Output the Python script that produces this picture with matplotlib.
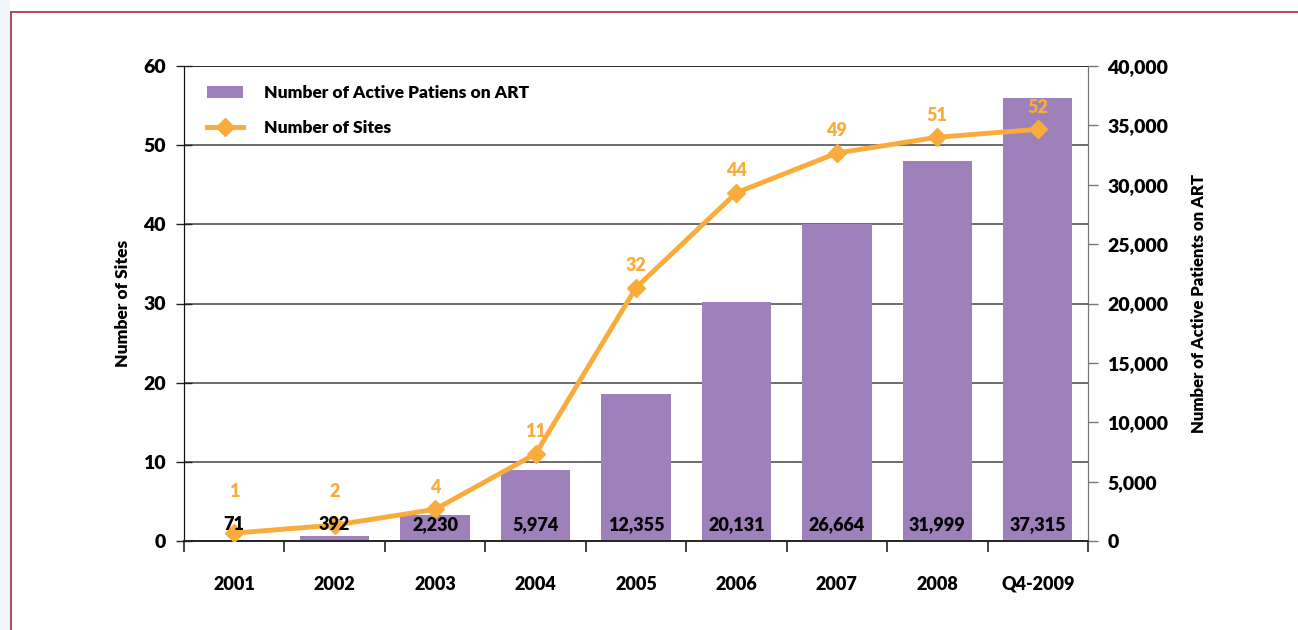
import numpy as np
import matplotlib.pyplot as plt
from matplotlib.patches import Rectangle
from matplotlib.lines import Line2D

plt.rcParams['font.family'] = ['Lato', 'DejaVu Sans']
plt.rcParams['font.weight'] = 'heavy'
WT = 'heavy'

# data
years = ["2001", "2002", "2003", "2004", "2005", "2006", "2007", "2008", "Q4-2009"]
patients = [71, 392, 2230, 5974, 12355, 20131, 26664, 31999, 37315]
sites = [1, 2, 4, 11, 32, 44, 49, 51, 52]

purple = "#9e80ba"
orange = "#f9ab3c"
frame = "#b8354f"

W, H = 1298, 630
fig = plt.figure(figsize=(W / 100, H / 100), dpi=100)

# light strip on the left and the thin frame
fig.patches.append(Rectangle((0, 0), 10 / W, 1, transform=fig.transFigure,
                             facecolor="#f2f5fa", edgecolor="none", zorder=0))
fig.add_artist(Line2D([10.5 / W, 10.5 / W], [0, 1 - 11.5 / H], color=frame, lw=1.3))
fig.add_artist(Line2D([10.5 / W, 1], [1 - 11.5 / H, 1 - 11.5 / H], color=frame, lw=1.3))

ax_bar = fig.add_axes([184 / W, 1 - 541 / H, (1088 - 184) / W, (541 - 66) / H])
ax_line = ax_bar.twinx()

x = np.arange(len(years))

# gridlines for the site scale, behind the bars
site_ticks = np.arange(0, 61, 10)
pmax = 40000
for t in site_ticks[1:]:
    ax_bar.axhline(t * pmax / 60, color="#444444", lw=1.1, zorder=0)

ax_bar.bar(x, patients, width=0.69, color=purple, zorder=2,
           label="Number of Active Patiens on ART")
ax_bar.set_ylim(0, pmax)
ax_bar.set_yticks(np.arange(0, pmax + 1, 5000))
ax_bar.set_yticklabels([f"{v:,}" for v in np.arange(0, pmax + 1, 5000)])
ax_bar.yaxis.tick_right()
ax_bar.yaxis.set_label_position("right")
ax_bar.set_ylabel("Number of Active Patients on ART", fontsize=12, fontweight=WT,
                  labelpad=16)
ax_bar.tick_params(axis="y", direction="out", length=7, width=1, color="#777777",
                   pad=7, labelsize=14)

ax_line.plot(x, sites, color=orange, lw=3.5, marker="D", markersize=9,
             label="Number of Sites", zorder=3)
ax_line.set_ylim(0, 60)
ax_line.set_yticks(site_ticks)
ax_line.yaxis.tick_left()
ax_line.yaxis.set_label_position("left")
ax_line.set_ylabel("Number of Sites", fontsize=12.5, fontweight=WT, labelpad=9)
ax_line.tick_params(axis="y", direction="inout", length=12, width=1, color="#222222",
                    pad=7, labelsize=14)

# category axis: ticks between categories, labels at centers
ax_bar.set_xlim(-0.5, len(years) - 0.5)
ax_bar.set_xticks(np.arange(-0.5, len(years), 1))
ax_bar.set_xticklabels([])
ax_bar.set_xticks(x, minor=True)
ax_bar.set_xticklabels(years, minor=True, fontsize=13, fontweight=WT)
ax_bar.tick_params(axis="x", which="major", direction="out", length=8, width=1.2,
                   color="#222222")
ax_bar.tick_params(axis="x", which="minor", length=0, pad=25)

for a in (ax_bar, ax_line):
    a.spines["top"].set_visible(False)
    a.spines["left"].set_color("#111111")
    a.spines["right"].set_color("#777777")
    a.spines["bottom"].set_color("#222222")
    a.spines["bottom"].set_linewidth(1.2)
ax_line.axhline(60, color="#222222", lw=1.2, zorder=1)

# value labels
for xi, p in zip(x, patients):
    ax_line.text(xi, 1400, f"{p:,}", transform=ax_bar.transData, ha="center",
                 va="center", fontsize=13, fontweight=WT, color="black", zorder=5)
for xi, s in zip(x, sites):
    ax_line.text(xi, max(s + 2.8, 6.3), str(s), ha="center", va="center",
                 fontsize=13, fontweight=WT, color=orange, zorder=5)

handles = [ax_bar.containers[0], ax_line.lines[0]]
ax_line.legend(handles, [h.get_label() for h in handles], loc="upper left",
               bbox_to_anchor=(0.012, 0.985), frameon=False,
               prop={"size": 12.5, "weight": WT},
               handlelength=2.1, handleheight=0.65, handletextpad=1.2,
               labelspacing=1.05, borderpad=0.2)

fig.savefig("out.png", dpi=100)
